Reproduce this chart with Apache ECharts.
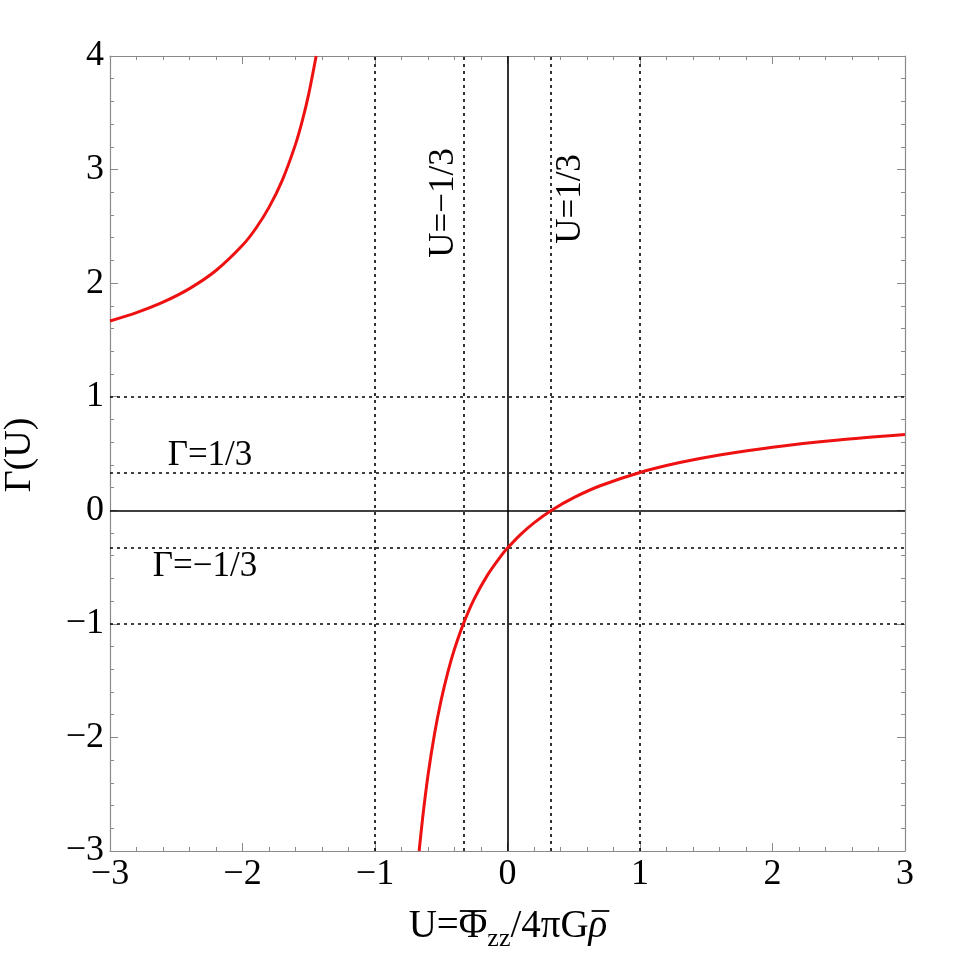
<!DOCTYPE html>
<html>
<head>
<meta charset="utf-8">
<script src="https://cdn.jsdelivr.net/npm/echarts@6/dist/echarts.min.js"></script>
<style>html,body{margin:0;padding:0;background:#fff;}#c{width:961px;height:959px;}</style>
</head>
<body>
<div id="c"></div>
<script>
// ---- data ----
const uLeft  = [-3, -2.8, -2.6, -2.4, -2.2, -2.0, -1.9, -1.8, -1.7, -1.6, -1.55, -1.5, -1.444];
const gLeft  = [1.667, 1.741, 1.833, 1.952, 2.111, 2.333, 2.481, 2.667, 2.905, 3.222, 3.424, 3.667, 4.0];
const uRight = [-0.667, -0.64, -0.6, -0.55, -0.5, -0.45, -0.4, -0.333, -0.25, -0.15, -0.05, 0, 0.1, 0.2, 0.333, 0.5, 0.7, 1, 1.3, 1.6, 2, 2.5, 3];
const gRight = [-3.0, -2.704, -2.333, -1.963, -1.667, -1.424, -1.222, -1.0, -0.778, -0.569, -0.404, -0.333, -0.212, -0.111, 0, 0.111, 0.216, 0.333, 0.420, 0.487, 0.556, 0.619, 0.667];
const uDotted = [-1, -1/3, 1/3, 1];
const gDotted = [-1, -1/3, 1/3, 1];
const uSolid = [0];
const gSolid = [0];
const xTicks = {min: -3, max: 3, step: 1};
const yTicks = {min: -3, max: 4, step: 1};
const labelUm = 'U=\u22121/3';
const labelUp = 'U=1/3';
const labelGp = '\u0393=1/3';
const labelGm = '\u0393=\u22121/3';
const yTitle = '\u0393(U)';
const xTitleParts = ['U=', '\u03A6', 'zz', '/4\u03C0G', '\u03C1'];

const FONT = '"Liberation Serif","Times New Roman",serif';
const GRAY = '#8a8a8a';
const fmt = v => v < 0 ? '\u2212' + Math.abs(v) : String(v);

function axisCommon(showLabel, t) {
  return {
    type: 'value', min: t.min, max: t.max, interval: t.step,
    axisLine: {show: true, onZero: false, lineStyle: {color: GRAY, width: 1.2}},
    axisTick: {show: true, inside: true, length: 8, lineStyle: {color: GRAY, width: 1}},
    minorTick: {show: true, splitNumber: 5, length: 4, lineStyle: {color: GRAY, width: 1}},
    splitLine: {show: false},
    axisLabel: {show: showLabel, formatter: fmt, fontSize: 36, color: '#000', fontFamily: FONT, margin: 6}
  };
}

// x-axis title built from pieces (overlines + subscript)
const ctx = document.createElement('canvas').getContext('2d');
function w(text, font) { ctx.font = font; return ctx.measureText(text).width; }
const F_MAIN = '39px ' + FONT;
const F_ITAL = 'italic 39px ' + FONT;
const F_SUB = '26px ' + FONT;
const partFonts = [F_MAIN, F_MAIN, F_SUB, F_MAIN, F_ITAL];
const widths = xTitleParts.map((t, i) => w(t, partFonts[i]));
const total = widths.reduce((a, b) => a + b, 0);
const titleCx = 508, titleY = 927;
let cx = titleCx - total / 2;
const titleEls = [];
xTitleParts.forEach((t, i) => {
  const isSub = i === 2;
  titleEls.push({type: 'text', x: cx, y: isSub ? titleY + 12 : titleY,
    style: {text: t, font: partFonts[i], fill: '#000', align: 'left', verticalAlign: 'middle'}});
  if (i === 1 || i === 4) {
    titleEls.push({type: 'line', shape: {x1: cx + (i === 4 ? 3 : 1), y1: titleY - 16, x2: cx + widths[i] + (i === 4 ? 2 : -1), y2: titleY - 16},
      style: {stroke: '#000', lineWidth: 1.8}});
  }
  cx += widths[i];
});

const chart = echarts.init(document.getElementById('c'));
const dotted = {color: '#000', width: 1.6, type: [3, 4]};
const solid = {color: '#000', width: 1.6, type: 'solid'};
const markData = []
  .concat(uDotted.map(v => ({xAxis: v, lineStyle: dotted})))
  .concat(gDotted.map(v => ({yAxis: v, lineStyle: dotted})))
  .concat(uSolid.map(v => ({xAxis: v, lineStyle: solid})))
  .concat(gSolid.map(v => ({yAxis: v, lineStyle: solid})));

chart.setOption({
  animation: false,
  backgroundColor: '#fff',
  grid: {left: 110, top: 56, width: 795, height: 795},
  xAxis: [
    Object.assign(axisCommon(true, xTicks), {position: 'bottom'}),
    Object.assign(axisCommon(false, xTicks), {position: 'top'})
  ],
  yAxis: [
    Object.assign(axisCommon(true, yTicks), {position: 'left'}),
    Object.assign(axisCommon(false, yTicks), {position: 'right'})
  ],
  series: [
    {
      type: 'line', xAxisIndex: 0, yAxisIndex: 0, showSymbol: false,
      data: [], silent: true,
      markLine: {silent: true, symbol: 'none', label: {show: false}, data: markData}
    },
    {
      type: 'line', xAxisIndex: 0, yAxisIndex: 0, showSymbol: false, smooth: 0.25,
      data: uLeft.map((u, i) => [u, gLeft[i]]),
      lineStyle: {color: '#ee1111', width: 3}, z: 5
    },
    {
      type: 'line', xAxisIndex: 0, yAxisIndex: 0, showSymbol: false, smooth: 0.25,
      data: uRight.map((u, i) => [u, gRight[i]]),
      lineStyle: {color: '#ee1111', width: 3}, z: 5
    }
  ],
  graphic: [
    {type: 'text', x: 444, y: 203, rotation: Math.PI / 2,
     style: {text: labelUm, font: '35px ' + FONT, fill: '#000', align: 'center', verticalAlign: 'middle'}},
    {type: 'text', x: 571, y: 199, rotation: Math.PI / 2,
     style: {text: labelUp, font: '35px ' + FONT, fill: '#000', align: 'center', verticalAlign: 'middle'}},
    {type: 'text', x: 210, y: 456,
     style: {text: labelGp, font: '35px ' + FONT, fill: '#000', align: 'center', verticalAlign: 'middle'}},
    {type: 'text', x: 205, y: 567,
     style: {text: labelGm, font: '35px ' + FONT, fill: '#000', align: 'center', verticalAlign: 'middle'}},
    {type: 'text', x: 20, y: 455, rotation: Math.PI / 2,
     style: {text: yTitle, font: '38px ' + FONT, fill: '#000', align: 'center', verticalAlign: 'middle'}}
  ].concat(titleEls)
});
</script>
</body>
</html>
